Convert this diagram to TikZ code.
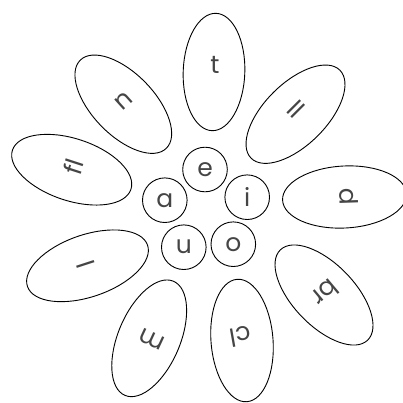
\documentclass[tikz,border=0pt]{standalone}
\usepackage{fontspec}
\setmainfont{Poppins}
\usetikzlibrary{shapes.geometric}
\definecolor{txt}{HTML}{454545}
\tikzset{
  petal/.style={draw=black, line width=0.9pt, ellipse, inner sep=0pt},
  vowel/.style={draw=black, line width=0.9pt, circle, inner sep=0pt, minimum size=44.6pt, text=txt, font=\fontsize{25}{30}\selectfont},
  lbl/.style={text=txt, inner sep=0pt, font=\fontsize{25}{30}\selectfont}
}
\begin{document}
\begin{tikzpicture}[x=1pt,y=1pt]
\useasboundingbox (0,0) rectangle (403,-402);
% petals
\node[petal, minimum width=117.4pt, minimum height=61.6pt, rotate=88] (pt) at (214,-72) {};
\node[petal, minimum width=125pt, minimum height=62pt, rotate=44.7] (pll) at (295.5,-114.2) {};
\node[petal, minimum width=124pt, minimum height=62pt, rotate=3] (pd) at (344.5,-197) {};
\node[petal, minimum width=125.6pt, minimum height=62pt, rotate=-46] (pbr) at (324,-295) {};
\node[petal, minimum width=122.8pt, minimum height=62pt, rotate=-85.4] (pcl) at (242,-340.5) {};
\node[petal, minimum width=124pt, minimum height=62pt, rotate=67] (pm) at (149.2,-338.3) {};
\node[petal, minimum width=127pt, minimum height=62pt, rotate=19] (pl) at (87.5,-265.8) {};
\node[petal, minimum width=124.8pt, minimum height=62pt, rotate=161.7] (pfl) at (71.7,-169.7) {};
\node[petal, minimum width=123.2pt, minimum height=62pt, rotate=134.2] (pn) at (123.3,-104.2) {};
% petal labels
\node[lbl, rotate=0] (lt) at (215,-65) {t};
\node[lbl, rotate=-45] (lll) at (296,-109) {ll};
\node[lbl, rotate=-88] (ld) at (348.8,-196.3) {d};
\node[lbl, rotate=-140] (lbr) at (325,-293.3) {br};
\node[lbl, rotate=-170] (lcl) at (240.5,-336.7) {cl};
\node[lbl, rotate=155] (lm) at (152,-339.2) {m};
\node[lbl, rotate=108] (ll) at (85.8,-264.7) {l};
\node[lbl, rotate=72] (lfl) at (73.3,-166.7) {fl};
\node[lbl, rotate=42] (ln) at (124.2,-100.8) {n};
% vowels
\node[vowel] (ve) at (205,-169.5) {e};
\node[vowel] (va) at (164.8,-200.2) {a};
\node[vowel] (vi) at (247.2,-197.2) {i};
\node[vowel] (vu) at (183.8,-247.2) {u};
\node[vowel] (vo) at (233.3,-244.2) {o};
\end{tikzpicture}
\end{document}
